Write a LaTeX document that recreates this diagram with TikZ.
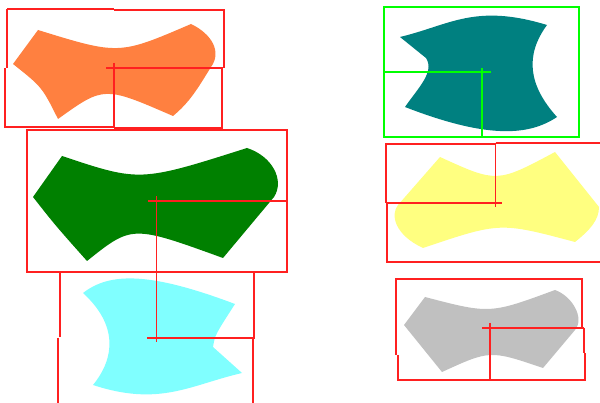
\documentclass[tikz,border=0pt]{standalone}
\definecolor{orangeF}{HTML}{FF8040}
\definecolor{greenF}{HTML}{008000}
\definecolor{cyanF}{HTML}{80FFFF}
\definecolor{tealF}{HTML}{008080}
\definecolor{yellowF}{HTML}{FFFF80}
\definecolor{grayF}{HTML}{C0C0C0}
\definecolor{redL}{HTML}{FF2020}
\definecolor{limeL}{HTML}{00FF00}
\tikzset{
  blob/.style={fill=#1, draw=none},
  redline/.style={draw=redL, line width=1.3pt},
  limeline/.style={draw=limeL, line width=2pt},
}
\begin{document}
\begin{tikzpicture}[x=1pt,y=-1pt]
\path[use as bounding box, fill=white] (0,0) rectangle (600,403);

% ---------- shapes ----------
% orange
\path[blob=orangeF] (38,30) .. controls (119,55) .. (191,24)
  .. controls (212,34) and (222,52) .. (211,67)
  .. controls (198,88) and (190,102) .. (173,116)
  .. controls (104,86) .. (58,119)
  .. controls (42,87) .. (13,64) -- cycle;
% green
\path[blob=greenF] (62,156) .. controls (140,182) .. (247,148)
  .. controls (272,156) and (285,180) .. (274,197)
  -- (223,258)
  .. controls (132,225) .. (87,261)
  .. controls (55,225) .. (33,197) -- cycle;
% cyan
\path[blob=cyanF] (83,293) .. controls (110,272) and (150,272) .. (235,304)
  .. controls (215,335) .. (213,347)
  -- (242,373)
  .. controls (190,385) and (160,407) .. (93,385)
  .. controls (115,358) and (118,325) .. (83,293) -- cycle;
% teal
\path[blob=tealF] (400,37) .. controls (450,25) and (475,3) .. (547,25)
  .. controls (525,55) and (528,85) .. (557,117)
  .. controls (530,135) and (490,140) .. (405,107)
  .. controls (418,88) and (435,72) .. (426,58) -- cycle;
% yellow
\path[blob=yellowF] (440,157) .. controls (497,183) .. (555,152)
  -- (599,207)
  .. controls (599,220) and (590,230) .. (575,242)
  .. controls (500,222) .. (423,248)
  .. controls (395,235) and (390,215) .. (398,205) -- cycle;
% gray
\path[blob=grayF] (425,297) .. controls (490,314) .. (555,290)
  .. controls (572,296) and (585,318) .. (575,330)
  -- (543,368)
  .. controls (490,350) .. (442,372)
  -- (404,325) -- cycle;

% ---------- frames ----------
% orange frame
\draw[redline] (7,9) -- (114,9);
\draw[redline] (114,10) -- (224,10) -- (224,68);
\draw[redline] (7,9) -- (7,68);
\draw[redline] (5,68) -- (5,127) -- (114,127);
\draw[redline] (114,128) -- (222,128) -- (222,68) -- (106,68);
\draw[redline] (114,63) -- (114,128);
% green frame
\draw[redline] (27,130) rectangle (287,272);
\draw[redline] (148,201) -- (287,201);
\draw[redline] (156.5,196) -- (156.5,342);
% cyan frame
\draw[redline] (60,272) -- (60,337);
\draw[redline] (58,338) -- (58,403);
\draw[redline] (156.5,272) -- (254,272) -- (254,338) -- (147,338);
\draw[redline] (253,338) -- (253,403);
% teal frame
\draw[limeline] (384,7) rectangle (579,137);
\draw[limeline] (384,72) -- (491,72);
\draw[limeline] (482,68) -- (482,137);
% yellow frame
\draw[redline] (386,203) -- (386,144) -- (495.5,144);
\draw[redline] (495.5,143) -- (600,143);
\draw[redline] (495.5,143) -- (495.5,207);
\draw[redline] (387,203) -- (502,203);
\draw[redline] (387,203) -- (387,262) -- (496,262);
\draw[redline] (496,262) -- (600,262);
% gray frame
\draw[redline] (396,355) -- (396,279) -- (582,279) -- (582,328);
\draw[redline] (398,355) -- (398,380) -- (585,380) -- (585,353);
\draw[redline] (584,328) -- (584,353);
\draw[redline] (482,328) -- (584,328);
\draw[redline] (490,323) -- (490,380);
\end{tikzpicture}
\end{document}
